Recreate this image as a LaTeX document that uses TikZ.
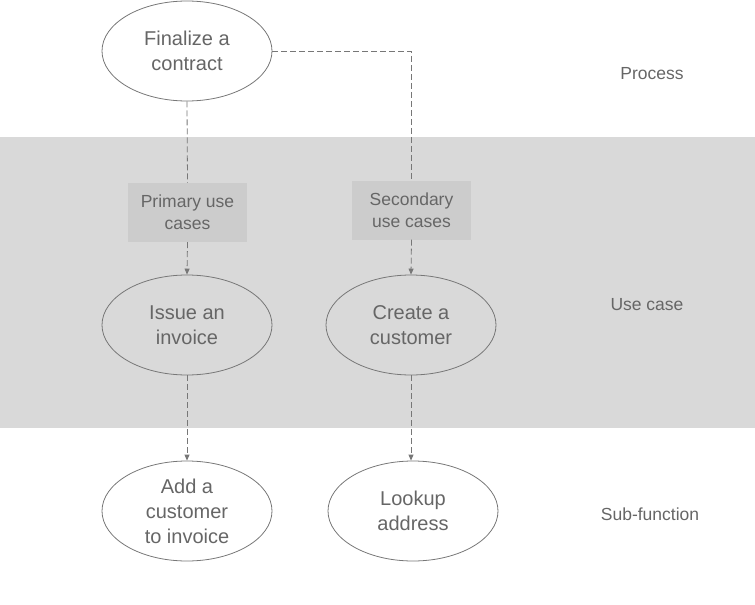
\documentclass[tikz,border=0pt]{standalone}
\usepackage{fontspec}
\setmainfont{Liberation Sans}
\usepackage{tikz}
\usetikzlibrary{arrows.meta, positioning, shapes.geometric}
\definecolor{bandGray}{HTML}{D9D9D9}
\definecolor{tagGray}{HTML}{CCCCCC}
\definecolor{lineGray}{HTML}{777777}
\definecolor{textGray}{HTML}{666666}

\begin{document}
\begin{tikzpicture}[x=1pt, y=-1pt,
		useCase/.style={ellipse, draw=lineGray, line width=0.8pt, minimum width=170pt, minimum height=100pt,
			inner sep=0pt, align=center, text=textGray, font=\fontsize{20}{25}\selectfont},
		caseTag/.style={fill=tagGray, minimum width=119pt, minimum height=59pt, inner sep=0pt,
			align=center, text=textGray, font=\fontsize{17.5}{22}\selectfont},
		levelLabel/.style={text=textGray, font=\fontsize{17.5}{22}\selectfont},
		flow/.style={draw=lineGray, line width=0.8pt, dash pattern=on 6pt off 3pt},
		flowArrow/.style={flow, -{Triangle[length=6pt, width=5pt]}}]
	\useasboundingbox (0,0) rectangle (755,605);
	% Use case band
	\fill[bandGray] (0,137) rectangle (755,428);

	% Process level
	\node[useCase, fill=white] (finalize) at (187,51) {Finalize a\\contract};
	\node[levelLabel] (process) at (652,74) {Process};

	% Use case level
	\node[caseTag] (primary) at (187.5,212.5) {Primary use\\cases};
	\node[caseTag] (secondary) at (411.5,210) {Secondary\\use cases};
	\node[useCase] (issue) at (187,325) {Issue an\\invoice};
	\node[useCase] (create) at (411,325) {Create a\\customer};
	\node[levelLabel] (usecase) at (647,305) {Use case};

	% Sub-function level
	\node[useCase] (addcust) at (187,511) {Add a\\customer\\to invoice};
	\node[useCase] (lookup) at (413,511) {Lookup\\address};
	\node[levelLabel] (subfunc) at (650,514) {Sub-function};

	% Connectors
	\draw[flow] (finalize.south) -- (primary.north);
	\draw[flowArrow] (primary.south) -- (issue.north);
	\draw[flow] (finalize.east) -| (secondary.north);
	\draw[flowArrow] (secondary.south) -- (create.north);
	\draw[flowArrow] (issue.south) -- (addcust.north);
	\draw[flowArrow] (create.south) -- (create.south |- lookup.north);
\end{tikzpicture}
\end{document}
